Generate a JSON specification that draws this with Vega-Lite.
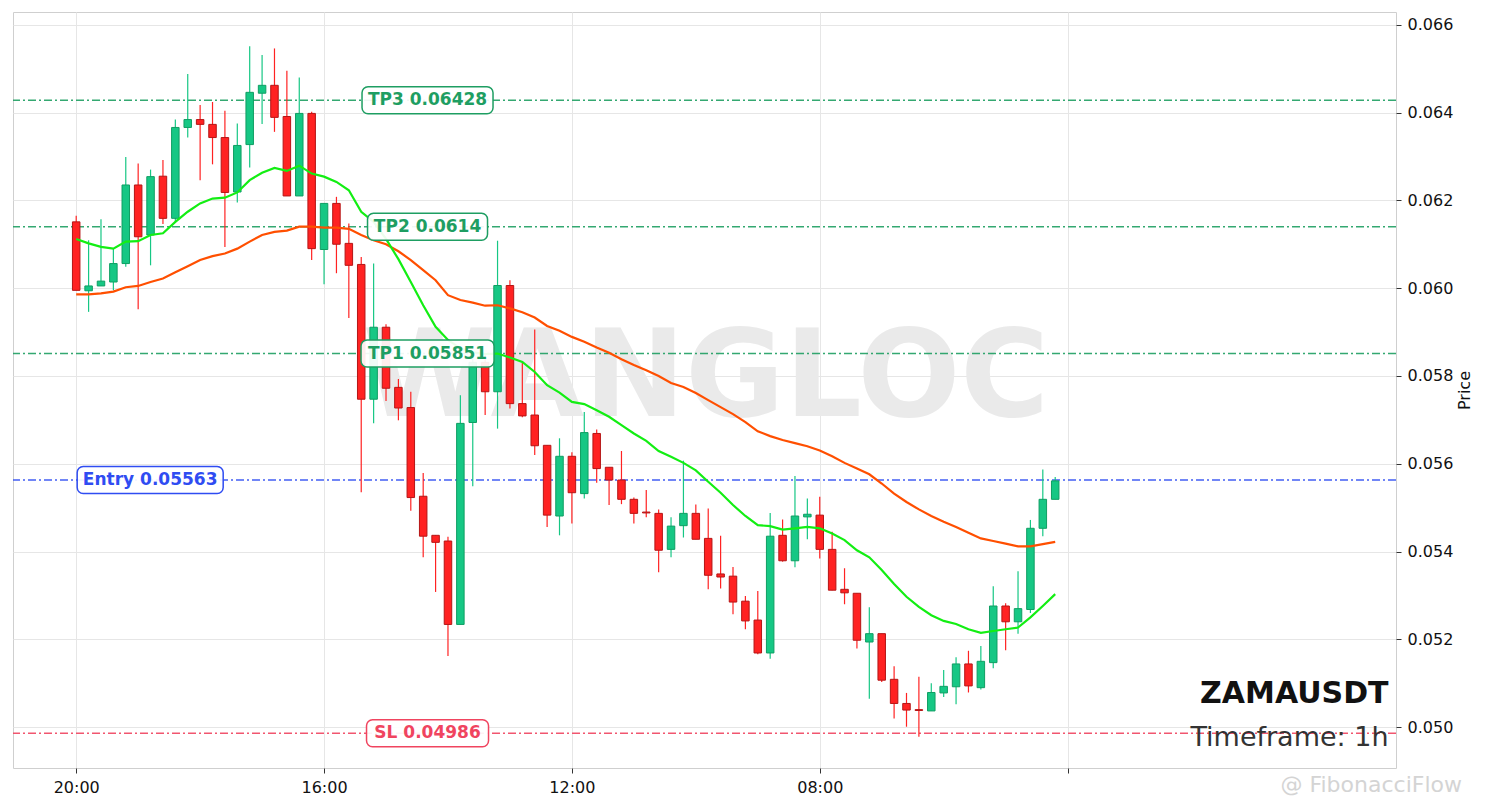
{
  "$schema": "https://vega.github.io/schema/vega-lite/v6.json",
  "width": 1383,
  "height": 756,
  "padding": {"left": 12, "top": 12, "right": 0, "bottom": 0},
  "background": "white",
  "config": {
    "font": "DejaVu Sans",
    "view": {"stroke": "#cfcfcf", "strokeWidth": 1},
    "axis": {"gridColor": "#e6e6e6", "gridWidth": 1, "domain": false, "tickColor": "#333333", "tickSize": 5, "labelColor": "#111111", "labelFontSize": 16, "labelFont": "DejaVu Sans", "titleFont": "DejaVu Sans", "titleFontSize": 16, "titleFontWeight": "normal", "titleColor": "#111111"}
  },
  "datasets": {
    "candles": [
      {"i":0,"o":0.06151,"h":0.06165,"l":0.05995,"c":0.05995,"f":0.06112,"s":0.05986},
      {"i":1,"o":0.05994,"h":0.06109,"l":0.05946,"c":0.06005,"f":0.06102,"s":0.05986},
      {"i":2,"o":0.06005,"h":0.06157,"l":0.06005,"c":0.06016,"f":0.06094,"s":0.05988},
      {"i":3,"o":0.06014,"h":0.06090,"l":0.05995,"c":0.06056,"f":0.06090,"s":0.05992},
      {"i":4,"o":0.06056,"h":0.06299,"l":0.06049,"c":0.06235,"f":0.06106,"s":0.06002},
      {"i":5,"o":0.06235,"h":0.06284,"l":0.05952,"c":0.06117,"f":0.06107,"s":0.06005},
      {"i":6,"o":0.06121,"h":0.06270,"l":0.06052,"c":0.06254,"f":0.06121,"s":0.06014},
      {"i":7,"o":0.06255,"h":0.06292,"l":0.06146,"c":0.06159,"f":0.06125,"s":0.06022},
      {"i":8,"o":0.06159,"h":0.06384,"l":0.06151,"c":0.06366,"f":0.06151,"s":0.06036},
      {"i":9,"o":0.06366,"h":0.06488,"l":0.06343,"c":0.06384,"f":0.06174,"s":0.06050},
      {"i":10,"o":0.06384,"h":0.06417,"l":0.06246,"c":0.06373,"f":0.06193,"s":0.06064},
      {"i":11,"o":0.06373,"h":0.06424,"l":0.06282,"c":0.06343,"f":0.06204,"s":0.06073},
      {"i":12,"o":0.06343,"h":0.06404,"l":0.06094,"c":0.06218,"f":0.06206,"s":0.06079},
      {"i":13,"o":0.06219,"h":0.06375,"l":0.06195,"c":0.06325,"f":0.06218,"s":0.06090},
      {"i":14,"o":0.06327,"h":0.06551,"l":0.06275,"c":0.06446,"f":0.06246,"s":0.06106},
      {"i":15,"o":0.06444,"h":0.06531,"l":0.06374,"c":0.06462,"f":0.06263,"s":0.06121},
      {"i":16,"o":0.06462,"h":0.06546,"l":0.06356,"c":0.06389,"f":0.06274,"s":0.06128},
      {"i":17,"o":0.06391,"h":0.06495,"l":0.06210,"c":0.06210,"f":0.06267,"s":0.06131},
      {"i":18,"o":0.06210,"h":0.06480,"l":0.06210,"c":0.06398,"f":0.06279,"s":0.06140},
      {"i":19,"o":0.06398,"h":0.06402,"l":0.06064,"c":0.06090,"f":0.06261,"s":0.06140},
      {"i":20,"o":0.06088,"h":0.06193,"l":0.06009,"c":0.06193,"f":0.06254,"s":0.06138},
      {"i":21,"o":0.06193,"h":0.06208,"l":0.06034,"c":0.06100,"f":0.06242,"s":0.06138},
      {"i":22,"o":0.06102,"h":0.06147,"l":0.05932,"c":0.06052,"f":0.06223,"s":0.06135},
      {"i":23,"o":0.06054,"h":0.06071,"l":0.05535,"c":0.05747,"f":0.06174,"s":0.06121},
      {"i":24,"o":0.05747,"h":0.06056,"l":0.05692,"c":0.05911,"f":0.06151,"s":0.06109},
      {"i":25,"o":0.05911,"h":0.05918,"l":0.05743,"c":0.05772,"f":0.06112,"s":0.06100},
      {"i":26,"o":0.05774,"h":0.05793,"l":0.05699,"c":0.05727,"f":0.06066,"s":0.06084},
      {"i":27,"o":0.05728,"h":0.05764,"l":0.05493,"c":0.05523,"f":0.06014,"s":0.06064},
      {"i":28,"o":0.05526,"h":0.05579,"l":0.05387,"c":0.05435,"f":0.05961,"s":0.06041},
      {"i":29,"o":0.05437,"h":0.05437,"l":0.05308,"c":0.05421,"f":0.05912,"s":0.06018},
      {"i":30,"o":0.05424,"h":0.05434,"l":0.05162,"c":0.05234,"f":0.05882,"s":0.05984},
      {"i":31,"o":0.05234,"h":0.05756,"l":0.05234,"c":0.05692,"f":0.05863,"s":0.05973},
      {"i":32,"o":0.05694,"h":0.05847,"l":0.05549,"c":0.05831,"f":0.05854,"s":0.05967},
      {"i":33,"o":0.05831,"h":0.05847,"l":0.05711,"c":0.05764,"f":0.05850,"s":0.05960},
      {"i":34,"o":0.05764,"h":0.06108,"l":0.05680,"c":0.06006,"f":0.05851,"s":0.05961},
      {"i":35,"o":0.06006,"h":0.06018,"l":0.05726,"c":0.05737,"f":0.05842,"s":0.05954},
      {"i":36,"o":0.05737,"h":0.05830,"l":0.05706,"c":0.05709,"f":0.05832,"s":0.05945},
      {"i":37,"o":0.05711,"h":0.05906,"l":0.05620,"c":0.05641,"f":0.05809,"s":0.05933},
      {"i":38,"o":0.05642,"h":0.05642,"l":0.05456,"c":0.05483,"f":0.05779,"s":0.05914},
      {"i":39,"o":0.05481,"h":0.05658,"l":0.05437,"c":0.05617,"f":0.05762,"s":0.05903},
      {"i":40,"o":0.05617,"h":0.05626,"l":0.05464,"c":0.05534,"f":0.05741,"s":0.05889},
      {"i":41,"o":0.05532,"h":0.05718,"l":0.05521,"c":0.05671,"f":0.05736,"s":0.05878},
      {"i":42,"o":0.05669,"h":0.05678,"l":0.05557,"c":0.05589,"f":0.05722,"s":0.05865},
      {"i":43,"o":0.05592,"h":0.05592,"l":0.05506,"c":0.05563,"f":0.05707,"s":0.05853},
      {"i":44,"o":0.05563,"h":0.05629,"l":0.05508,"c":0.05519,"f":0.05688,"s":0.05838},
      {"i":45,"o":0.05519,"h":0.05523,"l":0.05464,"c":0.05487,"f":0.05669,"s":0.05825},
      {"i":46,"o":0.05490,"h":0.05540,"l":0.05478,"c":0.05488,"f":0.05652,"s":0.05813},
      {"i":47,"o":0.05487,"h":0.05496,"l":0.05353,"c":0.05403,"f":0.05629,"s":0.05800},
      {"i":48,"o":0.05405,"h":0.05478,"l":0.05387,"c":0.05458,"f":0.05616,"s":0.05784},
      {"i":49,"o":0.05459,"h":0.05607,"l":0.05432,"c":0.05487,"f":0.05602,"s":0.05775},
      {"i":50,"o":0.05487,"h":0.05507,"l":0.05428,"c":0.05428,"f":0.05585,"s":0.05761},
      {"i":51,"o":0.05430,"h":0.05498,"l":0.05314,"c":0.05346,"f":0.05559,"s":0.05745},
      {"i":52,"o":0.05349,"h":0.05436,"l":0.05316,"c":0.05342,"f":0.05534,"s":0.05729},
      {"i":53,"o":0.05344,"h":0.05365,"l":0.05257,"c":0.05285,"f":0.05506,"s":0.05713},
      {"i":54,"o":0.05287,"h":0.05299,"l":0.05223,"c":0.05242,"f":0.05481,"s":0.05695},
      {"i":55,"o":0.05244,"h":0.05310,"l":0.05166,"c":0.05169,"f":0.05460,"s":0.05674},
      {"i":56,"o":0.05169,"h":0.05488,"l":0.05156,"c":0.05435,"f":0.05458,"s":0.05663},
      {"i":57,"o":0.05437,"h":0.05473,"l":0.05377,"c":0.05379,"f":0.05450,"s":0.05654},
      {"i":58,"o":0.05379,"h":0.05572,"l":0.05364,"c":0.05481,"f":0.05453,"s":0.05647},
      {"i":59,"o":0.05479,"h":0.05521,"l":0.05428,"c":0.05485,"f":0.05456,"s":0.05640},
      {"i":60,"o":0.05483,"h":0.05525,"l":0.05384,"c":0.05405,"f":0.05453,"s":0.05630},
      {"i":61,"o":0.05405,"h":0.05445,"l":0.05312,"c":0.05312,"f":0.05441,"s":0.05617},
      {"i":62,"o":0.05314,"h":0.05362,"l":0.05280,"c":0.05306,"f":0.05426,"s":0.05602},
      {"i":63,"o":0.05305,"h":0.05305,"l":0.05179,"c":0.05198,"f":0.05403,"s":0.05589},
      {"i":64,"o":0.05194,"h":0.05273,"l":0.05065,"c":0.05213,"f":0.05387,"s":0.05576},
      {"i":65,"o":0.05213,"h":0.05213,"l":0.05103,"c":0.05107,"f":0.05358,"s":0.05555},
      {"i":66,"o":0.05109,"h":0.05139,"l":0.05020,"c":0.05054,"f":0.05326,"s":0.05532},
      {"i":67,"o":0.05054,"h":0.05078,"l":0.05001,"c":0.05039,"f":0.05297,"s":0.05513},
      {"i":68,"o":0.05040,"h":0.05115,"l":0.04978,"c":0.05038,"f":0.05274,"s":0.05496},
      {"i":69,"o":0.05037,"h":0.05100,"l":0.05037,"c":0.05079,"f":0.05255,"s":0.05481},
      {"i":70,"o":0.05078,"h":0.05130,"l":0.05069,"c":0.05093,"f":0.05242,"s":0.05468},
      {"i":71,"o":0.05092,"h":0.05159,"l":0.05052,"c":0.05144,"f":0.05235,"s":0.05456},
      {"i":72,"o":0.05144,"h":0.05174,"l":0.05079,"c":0.05094,"f":0.05223,"s":0.05443},
      {"i":73,"o":0.05090,"h":0.05185,"l":0.05086,"c":0.05150,"f":0.05215,"s":0.05430},
      {"i":74,"o":0.05147,"h":0.05321,"l":0.05134,"c":0.05276,"f":0.05219,"s":0.05424},
      {"i":75,"o":0.05276,"h":0.05282,"l":0.05175,"c":0.05240,"f":0.05223,"s":0.05418},
      {"i":76,"o":0.05240,"h":0.05355,"l":0.05213,"c":0.05270,"f":0.05227,"s":0.05412},
      {"i":77,"o":0.05268,"h":0.05472,"l":0.05260,"c":0.05453,"f":0.05250,"s":0.05412},
      {"i":78,"o":0.05453,"h":0.05587,"l":0.05435,"c":0.05519,"f":0.05276,"s":0.05417},
      {"i":79,"o":0.05519,"h":0.05570,"l":0.05519,"c":0.05561,"f":0.05303,"s":0.05422}
    ],
    "levels": [
      {"name": "TP3", "price": 0.06428, "label": "TP3 0.06428"},
      {"name": "TP2", "price": 0.0614, "label": "TP2 0.0614"},
      {"name": "TP1", "price": 0.05851, "label": "TP1 0.05851"},
      {"name": "Entry", "price": 0.05563, "label": "Entry 0.05563"},
      {"name": "SL", "price": 0.04986, "label": "SL 0.04986"}
    ]
  },
  "layer": [
    {
      "data": {"name": "candles"},
      "mark": {"type": "line", "opacity": 0},
      "encoding": {
        "x": {"field": "i", "type": "quantitative", "title": null,
              "scale": {"domain": [-5.1, 106.5], "nice": false, "zero": false, "padding": 0},
              "axis": {"values": [0, 20, 40, 60, 80], "grid": true, "labelPadding": 6,
                       "labelExpr": "datum.value == 0 ? '20:00' : datum.value == 20 ? '16:00' : datum.value == 40 ? '12:00' : datum.value == 60 ? '08:00' : ''"}},
        "y": {"field": "c", "type": "quantitative", "title": "Price",
              "scale": {"domain": [0.04907, 0.06629], "nice": false, "zero": false, "padding": 0},
              "axis": {"orient": "right", "values": [0.05, 0.052, 0.054, 0.056, 0.058, 0.06, 0.062, 0.064, 0.066], "format": ".3f", "grid": true, "labelPadding": 6, "titleAngle": 270, "titlePadding": 20}}
      }
    },
    {
      "data": {"values": [{}]},
      "mark": {"type": "text", "text": "WANGLOC", "fontSize": 121, "fontWeight": "bold", "font": "DejaVu Sans", "color": "#eaeaea", "align": "center", "baseline": "middle"},
      "encoding": {"x": {"datum": 50.8, "type": "quantitative"}, "y": {"datum": 0.0579, "type": "quantitative", "title": "Price"}}
    },
    {
      "data": {"name": "levels"},
      "mark": {"type": "rule", "strokeDash": [8, 3, 2, 3], "strokeWidth": 1.4, "opacity": 0.9},
      "encoding": {
        "y": {"field": "price", "type": "quantitative", "title": "Price"},
        "color": {"field": "name", "type": "nominal", "legend": null,
                  "scale": {"domain": ["TP3", "TP2", "TP1", "Entry", "SL"], "range": ["#1e9e62", "#1e9e62", "#1e9e62", "#2f4cf2", "#f0445f"]}}
      }
    },
    {
      "data": {"name": "candles"},
      "mark": {"type": "rule", "strokeWidth": 1.2},
      "encoding": {
        "x": {"field": "i", "type": "quantitative"},
        "y": {"field": "l", "type": "quantitative", "title": "Price"},
        "y2": {"field": "h"},
        "color": {"condition": {"test": "datum.c >= datum.o", "value": "#16c784"}, "value": "#ff2222"}
      }
    },
    {
      "data": {"name": "candles"},
      "mark": {"type": "bar", "width": 7.5, "strokeWidth": 1},
      "encoding": {
        "x": {"field": "i", "type": "quantitative"},
        "y": {"field": "o", "type": "quantitative", "title": "Price"},
        "y2": {"field": "c"},
        "fill": {"condition": {"test": "datum.c >= datum.o", "value": "#16c784"}, "value": "#ff2222"},
        "stroke": {"condition": {"test": "datum.c >= datum.o", "value": "#0f9e63"}, "value": "#b51515"}
      }
    },
    {
      "data": {"name": "candles"},
      "mark": {"type": "line", "color": "#ff4f00", "strokeWidth": 2.2},
      "encoding": {
        "x": {"field": "i", "type": "quantitative"},
        "y": {"field": "s", "type": "quantitative", "title": "Price"}
      }
    },
    {
      "data": {"name": "candles"},
      "mark": {"type": "line", "color": "#13ee13", "strokeWidth": 2.2},
      "encoding": {
        "x": {"field": "i", "type": "quantitative"},
        "y": {"field": "f", "type": "quantitative", "title": "Price"}
      }
    },
    {
      "data": {"name": "levels"},
      "transform": [{"filter": "datum.name == 'TP3'"}],
      "mark": {"type": "rect", "width": 131, "height": 27, "cornerRadius": 6, "fill": "white", "fillOpacity": 0.92, "strokeWidth": 1.5, "stroke": "#1e9e62"},
      "encoding": {"x": {"datum": 28.35, "type": "quantitative"}, "y": {"field": "price", "type": "quantitative", "title": "Price"}}
    },
    {
      "data": {"name": "levels"},
      "transform": [{"filter": "datum.name == 'TP2'"}],
      "mark": {"type": "rect", "width": 120, "height": 27, "cornerRadius": 6, "fill": "white", "fillOpacity": 0.92, "strokeWidth": 1.5, "stroke": "#1e9e62"},
      "encoding": {"x": {"datum": 28.35, "type": "quantitative"}, "y": {"field": "price", "type": "quantitative", "title": "Price"}}
    },
    {
      "data": {"name": "levels"},
      "transform": [{"filter": "datum.name == 'TP1'"}],
      "mark": {"type": "rect", "width": 133, "height": 27, "cornerRadius": 6, "fill": "white", "fillOpacity": 0.92, "strokeWidth": 1.5, "stroke": "#1e9e62"},
      "encoding": {"x": {"datum": 28.35, "type": "quantitative"}, "y": {"field": "price", "type": "quantitative", "title": "Price"}}
    },
    {
      "data": {"name": "levels"},
      "transform": [{"filter": "datum.name == 'SL'"}],
      "mark": {"type": "rect", "width": 122, "height": 27, "cornerRadius": 6, "fill": "white", "fillOpacity": 0.92, "strokeWidth": 1.5, "stroke": "#f0445f"},
      "encoding": {"x": {"datum": 28.35, "type": "quantitative"}, "y": {"field": "price", "type": "quantitative", "title": "Price"}}
    },
    {
      "data": {"name": "levels"},
      "transform": [{"filter": "datum.name == 'Entry'"}],
      "mark": {"type": "rect", "width": 146, "height": 27, "cornerRadius": 6, "fill": "white", "fillOpacity": 0.92, "strokeWidth": 1.5, "stroke": "#2f4cf2"},
      "encoding": {"x": {"datum": 5.97, "type": "quantitative"}, "y": {"field": "price", "type": "quantitative", "title": "Price"}}
    },
    {
      "data": {"name": "levels"},
      "transform": [{"filter": "datum.name != 'Entry'"}],
      "mark": {"type": "text", "fontSize": 17, "fontWeight": "bold", "font": "DejaVu Sans", "align": "center", "baseline": "middle"},
      "encoding": {
        "x": {"datum": 28.35, "type": "quantitative"},
        "y": {"field": "price", "type": "quantitative", "title": "Price"},
        "text": {"field": "label"},
        "color": {"field": "name", "type": "nominal", "legend": null}
      }
    },
    {
      "data": {"name": "levels"},
      "transform": [{"filter": "datum.name == 'Entry'"}],
      "mark": {"type": "text", "fontSize": 17, "fontWeight": "bold", "font": "DejaVu Sans", "align": "center", "baseline": "middle"},
      "encoding": {
        "x": {"datum": 5.97, "type": "quantitative"},
        "y": {"field": "price", "type": "quantitative", "title": "Price"},
        "text": {"field": "label"},
        "color": {"field": "name", "type": "nominal", "legend": null}
      }
    },
    {
      "data": {"values": [{}]},
      "mark": {"type": "text", "text": "ZAMAUSDT", "fontSize": 30, "fontWeight": "bold", "font": "DejaVu Sans", "color": "#111111", "align": "right", "baseline": "alphabetic"},
      "encoding": {"x": {"datum": 105.9, "type": "quantitative"}, "y": {"datum": 0.05055, "type": "quantitative", "title": "Price"}}
    },
    {
      "data": {"values": [{}]},
      "mark": {"type": "text", "text": "Timeframe: 1h", "fontSize": 27, "font": "DejaVu Sans", "color": "#333333", "align": "right", "baseline": "alphabetic"},
      "encoding": {"x": {"datum": 105.9, "type": "quantitative"}, "y": {"datum": 0.04957, "type": "quantitative", "title": "Price"}}
    },
    {
      "data": {"values": [{}]},
      "mark": {"type": "text", "text": "@ FibonacciFlow", "fontSize": 22, "font": "DejaVu Sans", "color": "#d4d4d4", "align": "center", "baseline": "middle"},
      "encoding": {"x": {"datum": 104.5, "type": "quantitative"}, "y": {"datum": 0.04868, "type": "quantitative", "title": "Price"}}
    }
  ]
}
